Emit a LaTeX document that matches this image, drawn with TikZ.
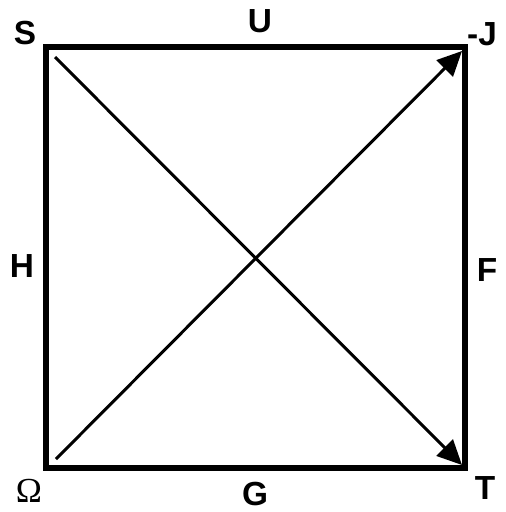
\documentclass[tikz,border=0pt]{standalone}
\usepackage{fontspec}
\setsansfont{Liberation Sans}
\newfontfamily\serifomega{Liberation Serif}
\usepackage{tikz}
\usetikzlibrary{arrows.meta,positioning}

\begin{document}
\begin{tikzpicture}[
  x=0.02cm,y=-0.02cm,
  lbl/.style={font=\fontsize{19}{21}\selectfont\sffamily\bfseries,inner sep=0pt},
  frame/.style={line width=3.4pt,line cap=rect},
  diag/.style={-{Triangle[length=14pt,width=13pt]},line width=1.7pt}
]
\useasboundingbox (0,0) rectangle (506,512);
% corners of the square
\coordinate (sw) at (46,468);
\coordinate (nw) at (46,47);
\coordinate (ne) at (465,47);
\coordinate (se) at (465,468);
% diagonal ends
\coordinate (s0) at (55,57);
\coordinate (o0) at (56,459);
\coordinate (jtip) at (462,51);
\coordinate (ttip) at (462,465);
\draw[frame] (nw)--(ne)--(se)--(sw)--cycle;
\draw[diag] (s0)--(ttip);
\draw[diag] (o0)--(jtip);
% labels
\node[lbl] (s) at (25,33) {S};
\node[lbl] (u) at (260,21) {U};
\node[lbl] (j) at (482,34) {-J};
\node[lbl] (h) at (22,266) {H};
\node[lbl] (f) at (487,270) {F};
\node[inner sep=0pt,font=\fontsize{20}{22}\selectfont\serifomega] (om) at (29,491) {Ω};
\node[lbl] (g) at (255,494) {G};
\node[lbl] (t) at (485,488) {T};
\end{tikzpicture}
\end{document}
